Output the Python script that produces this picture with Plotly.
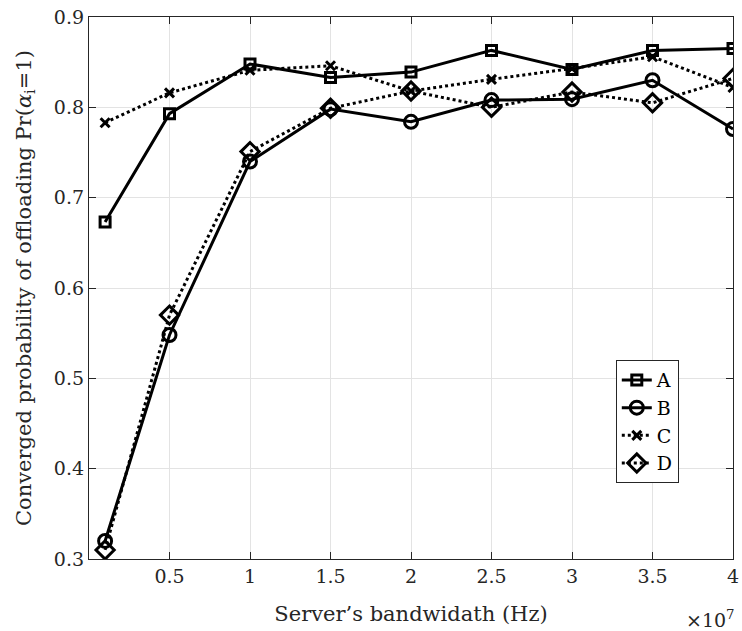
import plotly.graph_objects as go

# Server bandwidth (in units of 1e7 Hz)
bandwidth = [0.1, 0.5, 1.0, 1.5, 2.0, 2.5, 3.0, 3.5, 4.0]

# Converged offloading probability for each scheme
prob_a = [0.673, 0.793, 0.848, 0.833, 0.839, 0.863, 0.842, 0.863, 0.865]
prob_b = [0.320, 0.548, 0.740, 0.798, 0.784, 0.808, 0.809, 0.830, 0.776]
prob_c = [0.783, 0.816, 0.841, 0.846, 0.818, 0.831, 0.843, 0.856, 0.822]
prob_d = [0.310, 0.570, 0.751, 0.799, 0.818, 0.800, 0.817, 0.805, 0.832]

x_ticks = [0.5, 1, 1.5, 2, 2.5, 3, 3.5, 4]
x_tick_text = ["0.5", "1", "1.5", "2", "2.5", "3", "3.5", "4"]
y_ticks = [0.3, 0.4, 0.5, 0.6, 0.7, 0.8, 0.9]

FONT = "DejaVu Serif"
INK = "#262626"
x_vals = [v * 1e7 for v in bandwidth]

series = [
    ("A", prob_a, "solid", "square-open", 10),
    ("B", prob_b, "solid", "circle-open", 13),
    ("C", prob_c, "dot", "x-thin-open", 9),
    ("D", prob_d, "dot", "diamond-open", 14),
]

fig = go.Figure()
for name, vals, dash, symbol, size in series:
    fig.add_trace(go.Scatter(
        x=x_vals, y=vals, name=name, mode="lines+markers",
        line=dict(color="black", width=3, dash=dash),
        marker=dict(symbol=symbol, size=size, color="black",
                    line=dict(color="black", width=3)),
    ))

axis_common = dict(
    showline=True, linecolor=INK, linewidth=1.3, mirror="ticks",
    ticks="inside", ticklen=7, tickcolor=INK,
    showgrid=True, gridcolor="#e3e3e3", gridwidth=1,
    zeroline=False,
    tickfont=dict(family=FONT, size=19, color=INK),
    ticklabeloverflow="allow",
)

fig.update_xaxes(
    range=[0, 4e7],
    tickvals=[v * 1e7 for v in x_ticks], ticktext=x_tick_text,
    title=dict(text="Server\u2019s bandwidath (Hz)",
               font=dict(family=FONT, size=21, color=INK), standoff=20),
    **axis_common,
)
fig.update_yaxes(
    range=[0.3, 0.9], tickvals=y_ticks,
    ticktext=[f"{v:.1f}" for v in y_ticks],
    title=dict(text="Converged probability of offloading Pr(<i>\u03b1</i><sub>i</sub>=1)",
               font=dict(family=FONT, size=21, color=INK), standoff=16),
    **axis_common,
)

fig.add_annotation(
    x=1, y=0, xref="paper", yref="paper", xanchor="right", yanchor="top",
    yshift=-46, xshift=4, showarrow=False,
    text="\u00d710<sup>7</sup>", font=dict(family=FONT, size=19, color=INK),
)

fig.update_layout(
    width=742, height=631,
    margin=dict(l=89, r=3, t=17, b=72),
    paper_bgcolor="white", plot_bgcolor="white",
    showlegend=True,
    legend=dict(
        x=0.818, y=0.367, xanchor="left", yanchor="top",
        bgcolor="white", bordercolor=INK, borderwidth=1,
        font=dict(family=FONT, size=19, color="black"),
        itemwidth=30, tracegroupgap=0,
    ),
)

fig.write_html("out.html")
